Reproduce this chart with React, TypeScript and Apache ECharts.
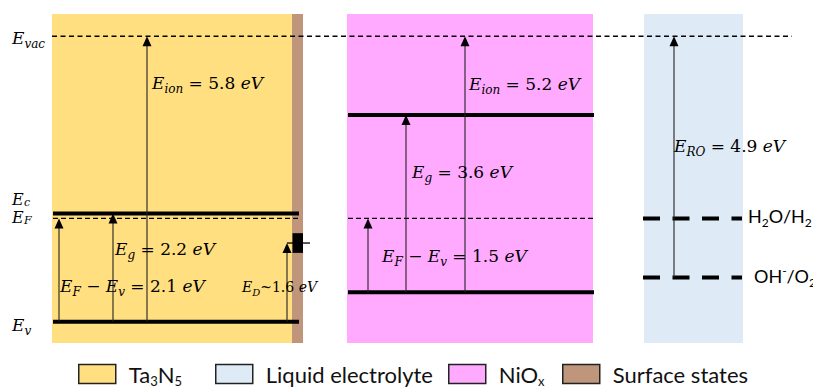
import React, { useEffect, useRef } from "react";
import * as echarts from "echarts";

// ---------- data (energies in eV, vacuum level = 0) ----------
const layerNames = ["Ta3N5", "Liquid electrolyte", "NiOx", "Surface states"];
const layerColors = ["#FFDF80", "#DEEBF7", "#FFAAFF", "#BF957B"];

const E_VAC = [0];
const ta3n5Levels = [-3.6, -3.7, -5.8]; // Ec, EF, Ev
const nioxLevels = [-1.6, -3.7, -5.2]; // Ec, EF, Ev
const redoxNames = ["H2O/H2", "OH-/O2"];
const redoxLevels = [-3.7, -4.9];
const surfaceStateLevel = [-4.2];
const ta3n5Gaps = [5.8, 2.2, 2.1, 1.6]; // Eion, Eg, EF-Ev, ED
const nioxGaps = [5.2, 3.6, 1.5]; // Eion, Eg, EF-Ev
const redoxGaps = [4.9]; // ERO

// ---------- layout (x in page px, y in eV) ----------
const E_TOP = 0.45;
const E_BOTTOM = -6.25;
const BOX_TOP = 0.45;
const BOX_BOTTOM = -6.23;
const boxX = [
  [52, 292], // Ta3N5
  [644, 743], // electrolyte
  [347, 593], // NiOx
  [292, 303], // surface states
];
const taLineX = [53, 299];
const niLineX = [348, 594];
const elLineX = [643, 742];
const vacLineX = [52, 792];
const taArrowX = [147, 113, 59, 287];
const niArrowX = [465, 406, 368];
const elArrowX = [674];
const legendLeft = [78, 215, 448, 562];

const MF = "DejaVu Serif";
const SF = "Lato";
const INK = "#000";

const mathRich: any = {
  i: { fontFamily: MF, fontStyle: "italic", fontSize: 17, lineHeight: 24, color: INK },
  u: { fontFamily: MF, fontSize: 17, lineHeight: 24, color: INK },
  s: { fontFamily: MF, fontStyle: "italic", fontSize: 12, lineHeight: 12, verticalAlign: "bottom", color: INK },
  i2: { fontFamily: MF, fontStyle: "italic", fontSize: 14, lineHeight: 20, color: INK },
  u2: { fontFamily: MF, fontSize: 14, lineHeight: 20, color: INK },
  s2: { fontFamily: MF, fontStyle: "italic", fontSize: 10, lineHeight: 10, verticalAlign: "bottom", color: INK },
  t: { fontFamily: SF, fontSize: 18, lineHeight: 24, color: INK },
  ts: { fontFamily: SF, fontSize: 12, lineHeight: 12, verticalAlign: "bottom", color: INK },
  tp: { fontFamily: SF, fontSize: 12, lineHeight: 12, verticalAlign: "top", color: INK },
};

const fmt = (v: number) => v.toFixed(1);
const eq = (sym: string, sub: string, v: number) => `{i|${sym}}{s|${sub}}{u| = ${fmt(v)} }{i|eV}`;
const diff = (v: number) => `{i|E}{s|F}{u| − }{i|E}{s|v}{u| = ${fmt(v)} }{i|eV}`;

type Lbl = { x: number; e: number; text: string; sub?: string };
const labels: Lbl[] = [
  { x: 12, e: -0.04, text: "{i|E}{s|vac}" },
  { x: 12, e: -3.31, text: "E", sub: "c" },
  { x: 12, e: -3.69, text: "E", sub: "F" },
  { x: 12, e: -5.86, text: "{i|E}{s|v}" },
  { x: 152, e: -0.96, text: eq("E", "ion", ta3n5Gaps[0]) },
  { x: 115, e: -4.33, text: eq("E", "g", ta3n5Gaps[1]) },
  { x: 60, e: -5.07, text: diff(ta3n5Gaps[2]) },
  { x: 242, e: -5.1, text: `{i2|E}{s2|D}{u2|~${fmt(ta3n5Gaps[3])} }{i2|eV}` },
  { x: 469, e: -0.98, text: eq("E", "ion", nioxGaps[0]) },
  { x: 412, e: -2.75, text: eq("E", "g", nioxGaps[1]) },
  { x: 382, e: -4.47, text: diff(nioxGaps[2]) },
  { x: 674, e: -2.24, text: eq("E", "RO", redoxGaps[0]) },
  { x: 748, e: redoxLevels[0] + 0.04, text: "{t|H}{ts|2}{t|O/H}{ts|2}" },
  { x: 754, e: redoxLevels[1] + 0.03, text: "{t|OH}{tp|-}{t|/O}{ts|2}" },
];
void redoxNames;

const legendRich: Record<string, string> = {
  Ta3N5: "{n|Ta}{s|3}{n|N}{s|5}",
  "Liquid electrolyte": "{n|Liquid electrolyte}",
  NiOx: "{n|NiO}{s|x}",
  "Surface states": "{n|Surface states}",
};

export default function App() {
  const ref = useRef<HTMLDivElement>(null);
  useEffect(() => {
    document.body.style.margin = "0";
    if (!ref.current) return;
    const chart = echarts.init(ref.current, undefined, { renderer: "svg" });

    const boxSeries = layerNames.map((name, i) => ({
      type: "custom",
      name,
      coordinateSystem: "cartesian2d",
      itemStyle: { color: layerColors[i] },
      z: i === 3 ? 2 : 1,
      data: [[boxX[i][0], boxX[i][1], BOX_TOP, BOX_BOTTOM]],
      renderItem: (_p: any, api: any) => {
        const a = api.coord([api.value(0), api.value(2)]);
        const b = api.coord([api.value(1), api.value(3)]);
        return {
          type: "rect",
          shape: { x: a[0], y: a[1], width: b[0] - a[0], height: b[1] - a[1] },
          style: { fill: layerColors[i] },
        };
      },
    }));

    const lineSeries = (data: number[][], style: any, z = 5) => ({
      type: "custom",
      coordinateSystem: "cartesian2d",
      silent: true,
      z,
      data,
      renderItem: (_p: any, api: any) => {
        const a = api.coord([api.value(0), api.value(2)]);
        const b = api.coord([api.value(1), api.value(2)]);
        return {
          type: "line",
          shape: { x1: a[0], y1: a[1], x2: b[0], y2: b[1] },
          style: { stroke: INK, ...style },
        };
      },
    });

    const solidBands = [
      [taLineX[0], taLineX[1], ta3n5Levels[0]],
      [taLineX[0], taLineX[1], ta3n5Levels[2]],
      [niLineX[0], niLineX[1], nioxLevels[0]],
      [niLineX[0], niLineX[1], nioxLevels[2]],
    ];
    const fermi = [
      [taLineX[0], taLineX[1], ta3n5Levels[1]],
      [niLineX[0], niLineX[1] - 1, nioxLevels[1]],
    ];
    const vac = [[vacLineX[0], vacLineX[1], E_VAC[0]]];
    const redox = redoxLevels.map((e) => [elLineX[0], elLineX[1], e]);

    const arrows = [
      [taArrowX[0], ta3n5Levels[2], E_VAC[0]],
      [taArrowX[1], ta3n5Levels[2], ta3n5Levels[0]],
      [taArrowX[2], ta3n5Levels[2], ta3n5Levels[1]],
      [taArrowX[3], ta3n5Levels[2], surfaceStateLevel[0]],
      [niArrowX[0], nioxLevels[2], E_VAC[0]],
      [niArrowX[1], nioxLevels[2], nioxLevels[0]],
      [niArrowX[2], nioxLevels[2], nioxLevels[1]],
      [elArrowX[0], redoxLevels[1], E_VAC[0]],
    ];

    const legends = layerNames.map((n, i) => ({
      data: [n],
      left: legendLeft[i],
      top: 363,
      padding: 0,
      itemWidth: 37,
      itemHeight: 19,
      icon: "rect",
      selectedMode: false,
      itemStyle: { borderColor: "#222", borderWidth: 1.5 },
      formatter: (name: string) => legendRich[name] || name,
      textStyle: {
        padding: [0, 0, 0, 8],
        rich: {
          n: { fontFamily: SF, fontSize: 22, lineHeight: 27, color: "#111" },
          s: { fontFamily: SF, fontSize: 13, lineHeight: 11, verticalAlign: "bottom", color: "#111" },
        },
      },
    }));

    const option: any = {
      animation: false,
      grid: { left: 0, right: 0, top: 14, height: 330, containLabel: false },
      xAxis: { type: "value", min: 0, max: 813, show: false },
      yAxis: { type: "value", min: E_BOTTOM, max: E_TOP, show: false },
      legend: legends,
      series: [
        ...boxSeries,
        lineSeries(vac, { lineWidth: 1.5, lineDash: [5, 3.5] }),
        lineSeries(fermi, { lineWidth: 1.4, lineDash: [5, 3] }),
        lineSeries(solidBands, { lineWidth: 4 }),
        lineSeries(redox, { lineWidth: 4, lineDash: [17, 12.5] }),
        {
          type: "custom",
          coordinateSystem: "cartesian2d",
          silent: true,
          z: 6,
          data: [[292.5, 303, 287, 310, surfaceStateLevel[0]]],
          renderItem: (_p: any, api: any) => {
            const e = api.value(4);
            const a = api.coord([api.value(0), e + 0.2]);
            const b = api.coord([api.value(1), e - 0.2]);
            const l0 = api.coord([api.value(2), e]);
            const l1 = api.coord([api.value(3), e]);
            return {
              type: "group",
              children: [
                { type: "rect", shape: { x: a[0], y: a[1], width: b[0] - a[0], height: b[1] - a[1] }, style: { fill: "#000" } },
                { type: "line", shape: { x1: l0[0], y1: l0[1], x2: l1[0], y2: l1[1] }, style: { stroke: "#000", lineWidth: 1.3 } },
              ],
            };
          },
        },
        {
          type: "custom",
          coordinateSystem: "cartesian2d",
          silent: true,
          z: 7,
          data: arrows,
          renderItem: (_p: any, api: any) => {
            const x = api.value(0);
            const a = api.coord([x, api.value(1)]);
            const b = api.coord([x, api.value(2)]);
            const hw = 4.5;
            const hh = 10;
            return {
              type: "group",
              children: [
                { type: "line", shape: { x1: a[0], y1: a[1], x2: b[0], y2: b[1] + hh - 1 }, style: { stroke: "#222", lineWidth: 1.1 } },
                {
                  type: "polygon",
                  shape: { points: [[b[0], b[1]], [b[0] - hw, b[1] + hh], [b[0] + hw, b[1] + hh]] },
                  style: { fill: "#000" },
                },
              ],
            };
          },
        },
        {
          type: "custom",
          coordinateSystem: "cartesian2d",
          silent: true,
          z: 8,
          data: labels.map((l) => [l.x, l.e]),
          renderItem: (p: any, api: any) => {
            const l = labels[p.dataIndex];
            const pt = api.coord([api.value(0), api.value(1)]);
            if (l.sub) {
              return {
                type: "group",
                children: [
                  {
                    type: "text",
                    x: pt[0],
                    y: pt[1],
                    style: {
                      text: l.text, fontFamily: MF, fontStyle: "italic", fontSize: 16, lineHeight: 13,
                      align: "left", verticalAlign: "middle", fill: INK,
                    },
                  },
                  {
                    type: "text",
                    x: pt[0] + 12,
                    y: pt[1] + 3,
                    style: {
                      text: l.sub, fontFamily: MF, fontStyle: "italic", fontSize: 11, lineHeight: 9,
                      align: "left", verticalAlign: "middle", fill: INK,
                    },
                  },
                ],
              };
            }
            return {
              type: "text",
              x: pt[0],
              y: pt[1],
              style: { text: l.text, rich: mathRich, align: "left", verticalAlign: "middle", fill: INK },
            };
          },
        },
      ],
    };
    chart.setOption(option);
    return () => chart.dispose();
  }, []);
  return <div ref={ref} style={{ width: 813, height: 391 }} />;
}
